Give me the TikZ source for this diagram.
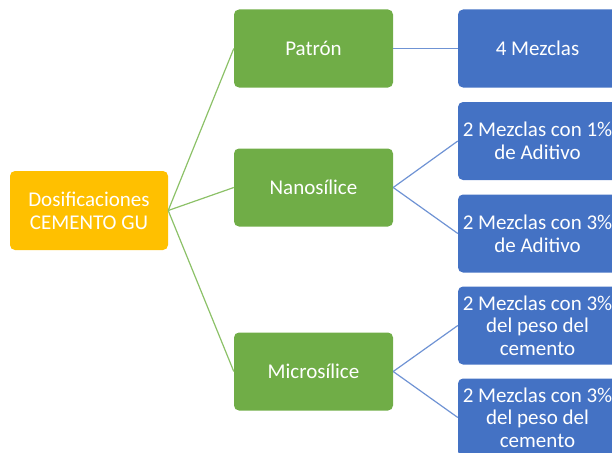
\documentclass[tikz,border=0pt]{standalone}
\usepackage{fontspec}
\setmainfont{Carlito}
\definecolor{gurootfill}{HTML}{FFC000}
\definecolor{gumixfill}{HTML}{70AD47}
\definecolor{gudosefill}{HTML}{4472C4}
\definecolor{gumixline}{HTML}{8CC168}
\definecolor{gudoseline}{HTML}{6F93D4}

\begin{document}
\begin{tikzpicture}[
  x=1pt,y=-1pt,
  gu box/.style={rounded corners=5pt,inner sep=0pt,minimum width=159pt,minimum height=78pt,
    text=white,align=center,font=\fontsize{21}{22.7}\selectfont},
    root box/.style={gu box,fill=gurootfill,minimum width=158pt,minimum height=79pt},
    mix box/.style={gu box,fill=gumixfill},
    dose box/.style={gu box,fill=gudosefill},
    mix link/.style={gumixline,line width=1.2pt},
    dose link/.style={gudoseline,line width=1.2pt},
  ]
  \useasboundingbox (0,0) rectangle (612,452);
  \clip (0,0) rectangle (612,452);

  \node[root box] (dosif) at (89,210.5) {Dosificaciones\\CEMENTO GU};

  \node[mix box] (patron) at (313.5,48.5) {Patrón};
  \node[mix box] (nano) at (313.5,187.5) {Nanosílice};
  \node[mix box] (micro) at (313.5,371.5) {Microsílice};

  \node[dose box] (patron-4) at (537.5,48.5) {4 Mezclas};
  \node[dose box] (nano-1) at (537.5,141) {2 Mezclas con 1\%\\de Aditivo};
  \node[dose box] (nano-3) at (537.5,233.5) {2 Mezclas con 3\%\\de Aditivo};
  \node[dose box] (micro-a) at (537.5,325.5) {2 Mezclas con 3\%\\del peso del\\cemento};
  \node[dose box] (micro-b) at (537.5,417.5) {2 Mezclas con 3\%\\del peso del\\cemento};

  % root to mixes
  \draw[mix link] (dosif.east) -- (patron.west);
  \draw[mix link] (dosif.east) -- (nano.west);
  \draw[mix link] (dosif.east) -- (micro.west);

  % mixes to doses
  \draw[dose link] (patron.east) -- (patron-4.west);
  \draw[dose link] (nano.east) -- (nano-1.west);
  \draw[dose link] (nano.east) -- (nano-3.west);
  \draw[dose link] (micro.east) -- (micro-a.west);
  \draw[dose link] (micro.east) -- (micro-b.west);
\end{tikzpicture}
\end{document}
